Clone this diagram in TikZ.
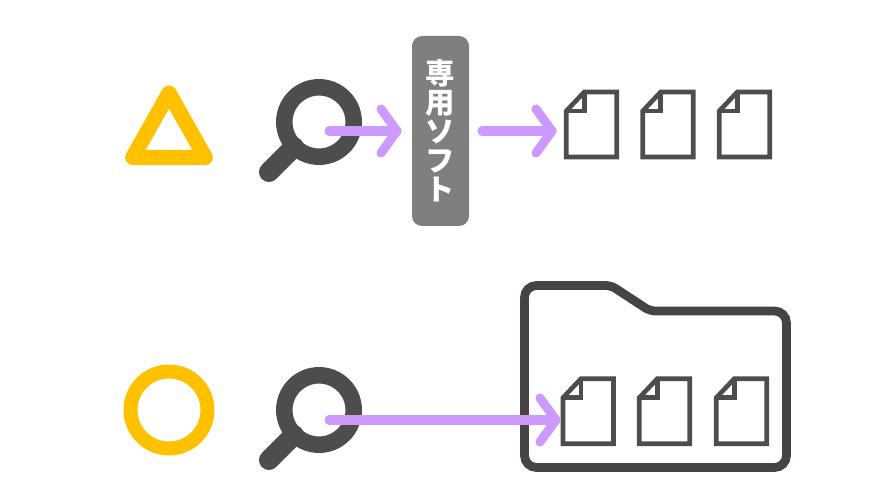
\documentclass[tikz,border=0pt]{standalone}
\usepackage{fontspec}
\newfontfamily\cjkfont{Noto Sans CJK JP}
\definecolor{gold}{HTML}{FFC000}
\definecolor{glass}{HTML}{4D4D4D}
\definecolor{purp}{HTML}{CC99FF}
\definecolor{folderc}{HTML}{464342}
\definecolor{softbox}{HTML}{7F7F7F}
\tikzset{
  x=0.75pt,y=-0.75pt,
  goldline/.style={draw=gold,line width=11.4pt,line join=round},
  goldring/.style={draw=gold,line width=10.5pt},
  arrowline/.style={draw=purp,line width=6.8pt,line cap=round,line join=round},
  docline/.style={draw=glass,line width=3.5pt,fill=white,line join=miter},
  lens/.style={draw=glass,line width=12.4pt},
  lenshandle/.style={draw=glass,line width=15pt,line cap=round},
  docicon/.pic={
    \draw[docline] (0,19) -- (18,0) -- (50.5,0) -- (50.5,65) -- (0,65) -- cycle;
    \draw[docline,fill=none] (18,0) -- (18,19) -- (0,19);
  },
  magnifier/.pic={
    \draw[lenshandle] (-25,25) -- (-50,50);
    \draw[lens] (0,0) circle (34.7);
  }
}
\begin{document}
\begin{tikzpicture}
\useasboundingbox (0,0) rectangle (876,499);
% top row
\draw[goldline] (169,93) -- (205.3,157.5) -- (132.7,157.5) -- cycle;
\pic at (319,122) {magnifier};
\node[draw=none,fill=softbox,rounded corners=7.5pt,minimum width=42.75pt,minimum height=142.5pt,inner sep=0pt] (soft) at (440.5,131) {};
\node[text=white,font=\cjkfont\bfseries\fontsize{22}{21.8}\selectfont,align=center,inner sep=0pt] (softlabel) at (440.5,131) {専\\用\\ソ\\フ\\ト};
\coordinate (a1s) at (329,131);
\coordinate (a1e) at (397,131);
\draw[arrowline] (a1s) -- (a1e);
\draw[arrowline] (381,109) -- (a1e) -- (381,153);
\coordinate (a2s) at (482,131);
\coordinate (a2e) at (552,131);
\draw[arrowline] (a2s) -- (a2e);
\draw[arrowline] (536,109) -- (a2e) -- (536,153);
\pic at (566.3,92) {docicon};
\pic at (642.7,92) {docicon};
\pic at (719.3,92) {docicon};
% bottom row
\draw[goldring] (169,410) circle (38.5);
\pic at (319,410) {magnifier};
\draw[draw=folderc,line width=6.6pt,fill=white,rounded corners=9pt]
  (524.5,467.5) -- (524.5,285.5) [rounded corners=4pt] -- (611,285.5) -- (650,311) [rounded corners=9pt] -- (786.5,311) -- (786.5,467.5) -- cycle;
\pic at (563,378.7) {docicon};
\pic at (639.3,378.7) {docicon};
\pic at (716.3,378.7) {docicon};
\coordinate (a3s) at (329,420);
\coordinate (a3e) at (556,420);
\draw[arrowline] (a3s) -- (a3e);
\draw[arrowline] (540,398) -- (a3e) -- (540,442);
\end{tikzpicture}
\end{document}
